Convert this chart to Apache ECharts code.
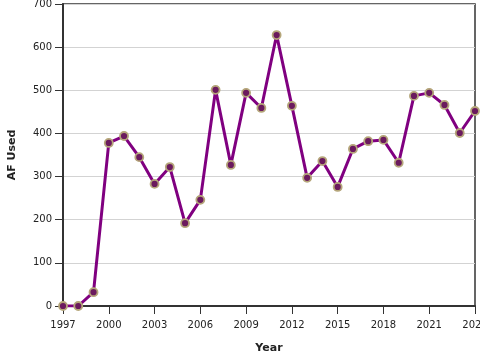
<!DOCTYPE html>
<html>
<head>
<meta charset="utf-8">
<script src="https://cdn.jsdelivr.net/npm/echarts@6/dist/echarts.min.js"></script>
<style>html,body{margin:0;padding:0;background:#fff}#c{width:480px;height:360px}</style>
</head>
<body>
<div id="c"></div>
<script>
var years = [1997,1998,1999,2000,2001,2002,2003,2004,2005,2006,2007,2008,2009,2010,2011,2012,2013,2014,2015,2016,2017,2018,2019,2020,2021,2022,2023,2024];
var afUsed = [0,0,32,378,394,345,283,322,192,246,501,327,494,459,628,464,297,336,276,364,382,385,332,487,494,466,401,452];
var yTicks = [0,100,200,300,400,500,600,700];

var chart = echarts.init(document.getElementById('c'), null, {renderer:'canvas'});
var font = 'DejaVu Sans';
chart.setOption({
  animation: false,
  grid: {left: 63, right: 5, top: 4, bottom: 54, containLabel: false, outerBoundsMode: 'none', show: true, borderColor: '#333', borderWidth: 1.5, backgroundColor: 'transparent'},
  xAxis: {
    type: 'category',
    data: years.map(String),
    boundaryGap: false,
    name: 'Year',
    nameLocation: 'middle',
    nameGap: 37,
    nameTextStyle: {fontFamily: font, fontWeight: 'bold', fontSize: 11, color: '#222'},
    axisLine: {lineStyle: {color: '#333', width: 2}},
    axisTick: {interval: 2, length: 8, lineStyle: {color: '#333', width: 1}},
    axisLabel: {interval: 2, fontFamily: font, fontSize: 10, color: '#222', margin: 14},
    splitLine: {show: false}
  },
  yAxis: {
    type: 'value',
    min: yTicks[0],
    max: yTicks[yTicks.length - 1],
    interval: 100,
    name: 'AF Used',
    nameLocation: 'middle',
    nameGap: 45,
    nameTextStyle: {fontFamily: font, fontWeight: 'bold', fontSize: 11, color: '#222'},
    axisLine: {show: true, lineStyle: {color: '#333', width: 2}},
    axisTick: {show: true, length: 8, lineStyle: {color: '#333', width: 1}},
    axisLabel: {fontFamily: font, fontSize: 10, color: '#222', margin: 11},
    splitLine: {show: true, lineStyle: {color: '#d3d3d3', width: 1}}
  },
  series: [{
    type: 'line',
    data: afUsed,
    symbol: 'circle',
    symbolSize: 8,
    lineStyle: {color: '#800080', width: 3},
    itemStyle: {color: '#6b1a5e', borderColor: '#b5a67a', borderWidth: 1.8},
    z: 3
  }]
});
</script>
</body>
</html>
